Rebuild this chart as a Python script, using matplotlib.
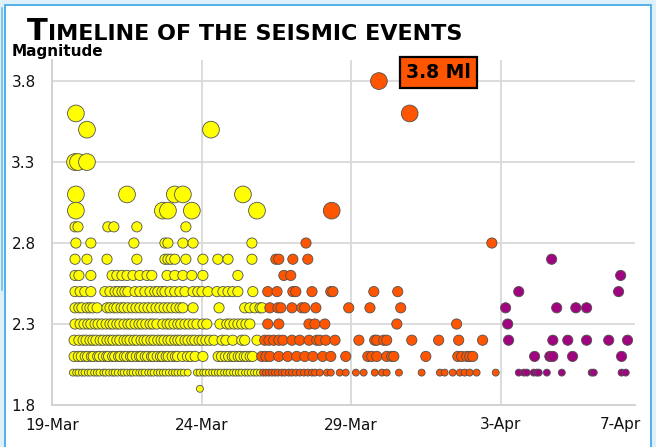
import matplotlib.pyplot as plt
from matplotlib.patches import Rectangle
from matplotlib.lines import Line2D

# event time in days since 19-Mar 00:00, grouped by local magnitude (Ml)
yellow_mag = [3.6, 3.5, 3.3, 3.1, 3.0, 2.9, 2.8, 2.7, 2.6, 2.5, 2.4, 2.3, 2.2, 2.1, 2.0, 1.9]
yellow_days = [
    [0.79],
    [1.16, 5.31],
    [0.76, 0.86, 1.16],
    [0.79, 2.50, 4.10, 4.37, 6.38],
    [0.79, 3.70, 3.87, 4.67, 6.85],
    [0.76, 0.86, 1.86, 2.06, 2.83, 4.47],
    [0.79, 1.29, 2.73, 3.77, 3.87, 4.37, 4.71, 6.68],
    [0.76, 1.16, 1.83, 2.83, 3.77, 3.87, 3.97, 4.10, 4.47, 5.04, 5.54, 5.88, 6.68],
    [0.76, 0.89, 1.29, 2.00, 2.16, 2.33, 2.50, 2.70, 2.93, 3.17, 3.33, 3.84, 4.10, 4.37,
     4.67, 5.04, 6.21],
    [0.76, 0.93, 1.09, 1.29, 1.76, 1.93, 2.10, 2.20, 2.33, 2.43, 2.53, 2.77, 2.93, 3.10,
     3.27, 3.43, 3.53, 3.67, 3.77, 3.94, 4.10, 4.27, 4.44, 4.71, 4.87, 5.01, 5.21, 5.51,
     5.71, 5.88, 6.04, 6.21, 6.71],
    [0.76, 0.89, 0.99, 1.16, 1.26, 1.36, 1.50, 1.83, 1.93, 2.06, 2.16, 2.30, 2.40, 2.53,
     2.67, 2.80, 2.93, 3.07, 3.20, 3.33, 3.47, 3.60, 3.74, 3.87, 4.00, 4.14, 4.27, 4.37,
     4.71, 5.58, 6.44, 6.61, 6.78, 6.95, 7.02],
    [0.76, 0.93, 1.06, 1.19, 1.29, 1.43, 1.53, 1.66, 1.80, 1.93, 2.03, 2.16, 2.26, 2.40,
     2.53, 2.63, 2.77, 2.90, 3.00, 3.13, 3.27, 3.37, 3.50, 3.70, 3.84, 3.94, 4.07, 4.20,
     4.30, 4.44, 4.57, 4.71, 4.84, 5.04, 5.17, 5.61, 5.84, 5.94, 6.08, 6.21, 6.34, 6.48,
     6.61],
    [0.73, 0.89, 1.03, 1.13, 1.26, 1.36, 1.46, 1.60, 1.70, 1.83, 1.93, 2.03, 2.16, 2.26,
     2.40, 2.50, 2.60, 2.73, 2.83, 2.97, 3.07, 3.17, 3.30, 3.40, 3.53, 3.64, 3.74, 3.87,
     3.97, 4.10, 4.20, 4.30, 4.44, 4.54, 4.67, 4.77, 4.91, 5.01, 5.14, 5.27, 5.41, 5.68,
     5.81, 6.04, 6.34, 6.44, 6.85],
    [0.73, 0.87, 0.97, 1.10, 1.18, 1.31, 1.37, 1.52, 1.58, 1.71, 1.82, 1.88, 2.02, 2.09,
     2.22, 2.28, 2.41, 2.49, 2.62, 2.68, 2.81, 2.92, 2.98, 3.11, 3.19, 3.32, 3.38, 3.51,
     3.62, 3.69, 3.81, 3.88, 4.01, 4.12, 4.19, 4.36, 4.52, 4.63, 4.78, 5.04, 5.55, 5.66,
     5.79, 5.90, 6.02, 6.09, 6.22, 6.30, 6.42, 6.50, 6.62, 6.70],
    [0.69, 0.80, 0.88, 0.99, 1.08, 1.19, 1.28, 1.40, 1.49, 1.58, 1.71, 1.79, 1.90, 2.01,
     2.09, 2.19, 2.31, 2.39, 2.50, 2.61, 2.69, 2.80, 2.91, 3.00, 3.09, 3.21, 3.30, 3.39,
     3.51, 3.60, 3.70, 3.79, 3.90, 4.01, 4.10, 4.19, 4.30, 4.40, 4.53, 4.84, 4.93, 5.05,
     5.13, 5.24, 5.35, 5.44, 5.54, 5.63, 5.75, 5.84, 5.93, 6.05, 6.14, 6.24, 6.33, 6.45,
     6.54, 6.64, 6.75, 6.84, 6.95],
    [4.94],
]

orange_mag = [3.8, 3.6, 3.0, 2.8, 2.7, 2.6, 2.5, 2.4, 2.3, 2.2, 2.1, 2.0]
orange_days = [
    [10.93],
    [11.96],
    [9.35],
    [8.49, 14.71],
    [7.48, 7.58, 8.05, 8.55],
    [7.75, 7.98],
    [7.21, 7.52, 8.05, 8.15, 8.69, 9.32, 9.39, 10.76, 11.56],
    [7.28, 7.55, 7.65, 8.02, 8.35, 8.45, 8.82, 9.92, 10.63, 11.66],
    [7.21, 7.58, 8.59, 8.79, 9.12, 11.53, 13.53],
    [7.11, 7.25, 7.41, 7.58, 7.72, 8.02, 8.28, 8.59, 8.85, 8.95, 9.15, 9.46, 10.26, 10.79,
     10.86, 11.09, 11.19, 12.03, 12.93, 13.60, 14.40],
    [7.01, 7.15, 7.28, 7.58, 7.88, 8.18, 8.45, 8.72, 9.05, 9.32, 9.82, 10.56, 10.69, 10.86,
     11.19, 11.36, 11.43, 12.50, 13.57, 13.70, 13.87, 13.97, 14.07],
    [7.05, 7.15, 7.25, 7.35, 7.45, 7.55, 7.68, 7.78, 7.92, 8.02, 8.15, 8.28, 8.42, 8.55,
     8.69, 8.79, 8.95, 9.19, 9.32, 9.62, 9.82, 10.16, 10.42, 10.79, 11.03, 11.19, 11.60,
     12.36, 12.97, 13.13, 13.40, 13.64, 13.80, 13.97, 14.20, 14.84],
]

purple_mag = [2.7, 2.6, 2.5, 2.4, 2.3, 2.2, 2.1, 2.0]
purple_days = [
    [16.71],
    [19.02],
    [15.61, 18.95],
    [15.17, 16.88, 17.52, 17.88],
    [15.24],
    [15.27, 16.75, 17.25, 17.88, 18.62, 19.25],
    [16.14, 16.65, 16.75, 17.41, 19.05],
    [15.61, 15.78, 15.88, 16.11, 16.21, 16.28, 16.55, 17.05, 18.05, 18.12, 19.05, 19.19],
]

x_ticks = [0, 5, 10, 15]
x_labels = ['19-Mar', '24-Mar', '29-Mar', '3-Apr']
x_end_tick = 19
x_end_label = '7-Apr'
y_ticks = [1.8, 2.3, 2.8, 3.3, 3.8]


def flatten(mags, days):
    xs, ys = [], []
    for m, row in zip(mags, days):
        xs += row
        ys += [m] * len(row)
    return xs, ys


def bubble(ms):
    # bubble area grows in steps with magnitude
    return [25 if m < 2.05 else 54 if m < 2.95 else 145 for m in ms]


fig = plt.figure(figsize=(6.56, 4.47), dpi=100, facecolor='#def1fb')
W, H = 656, 447

# card behind the chart
fig.patches.append(Rectangle((5 / W, -0.05), 646 / W, (H - 5) / H + 0.05,
                             transform=fig.transFigure, facecolor='white',
                             edgecolor='#55b0e6', lw=1.4, zorder=-2))
fig.lines.append(Line2D([2 / W, 2 / W], [(H - 8) / H, (H - 290) / H],
                        transform=fig.transFigure, color='#6fbdea', lw=1.2, zorder=-2))

ax = fig.add_axes([52.3 / W, 42 / H, (635 - 52.3) / W, (405 - 60) / H])
ax.patch.set_alpha(0)

for mags, days, col in [(yellow_mag, yellow_days, '#ffff00'),
                        (orange_mag, orange_days, '#ff5500'),
                        (purple_mag, purple_days, '#a0057f')]:
    xs, ys = flatten(mags, days)
    ax.scatter(xs, ys, s=bubble(ys), c=col, edgecolors='#505050',
               linewidths=0.6, zorder=3)

# label for the strongest event
big_i = orange_mag.index(max(orange_mag))
ax.annotate('3.8 Ml', xy=(orange_days[big_i][0], orange_mag[big_i]),
            xytext=(43, 6), textcoords='offset points', ha='center', va='center',
            fontsize=13.5, fontweight='bold',
            bbox=dict(boxstyle='square,pad=0.32', fc='#ff5500', ec='black', lw=1.6),
            zorder=5)

ax.set_xlim(0, 19.5)
ax.set_ylim(1.8, 3.93)
ax.set_xticks(x_ticks, labels=x_labels)
ax.set_xticks([x_end_tick], labels=[x_end_label], minor=True)
ax.set_yticks(y_ticks, labels=[f'{v:.1f}' for v in y_ticks])
ax.tick_params(which='both', length=0, labelsize=11, colors='#111111')
ax.tick_params(axis='x', which='both', pad=9)
ax.tick_params(axis='y', pad=12)
ax.grid(True, which='major', color='#d9d9d9', lw=1.3)
ax.set_axisbelow(True)
for side in ['top', 'right']:
    ax.spines[side].set_visible(False)
for side in ['left', 'bottom']:
    ax.spines[side].set_color('#d0d0d0')
    ax.spines[side].set_linewidth(1.3)

fig.text(12 / W, (H - 56) / H, 'Magnitude', fontsize=11, fontweight='bold', va='baseline')

# small-caps title
t1 = fig.text(27 / W, (H - 40) / H, 'T', fontsize=22, fontweight='bold', va='baseline')
fig.canvas.draw()
bb = t1.get_window_extent()
fig.text(bb.x1 / W + 0.001, (H - 40) / H, 'IMELINE OF THE SEISMIC EVENTS',
         fontsize=16, fontweight='bold', va='baseline')

fig.savefig('out.png', dpi=100, facecolor=fig.get_facecolor())
